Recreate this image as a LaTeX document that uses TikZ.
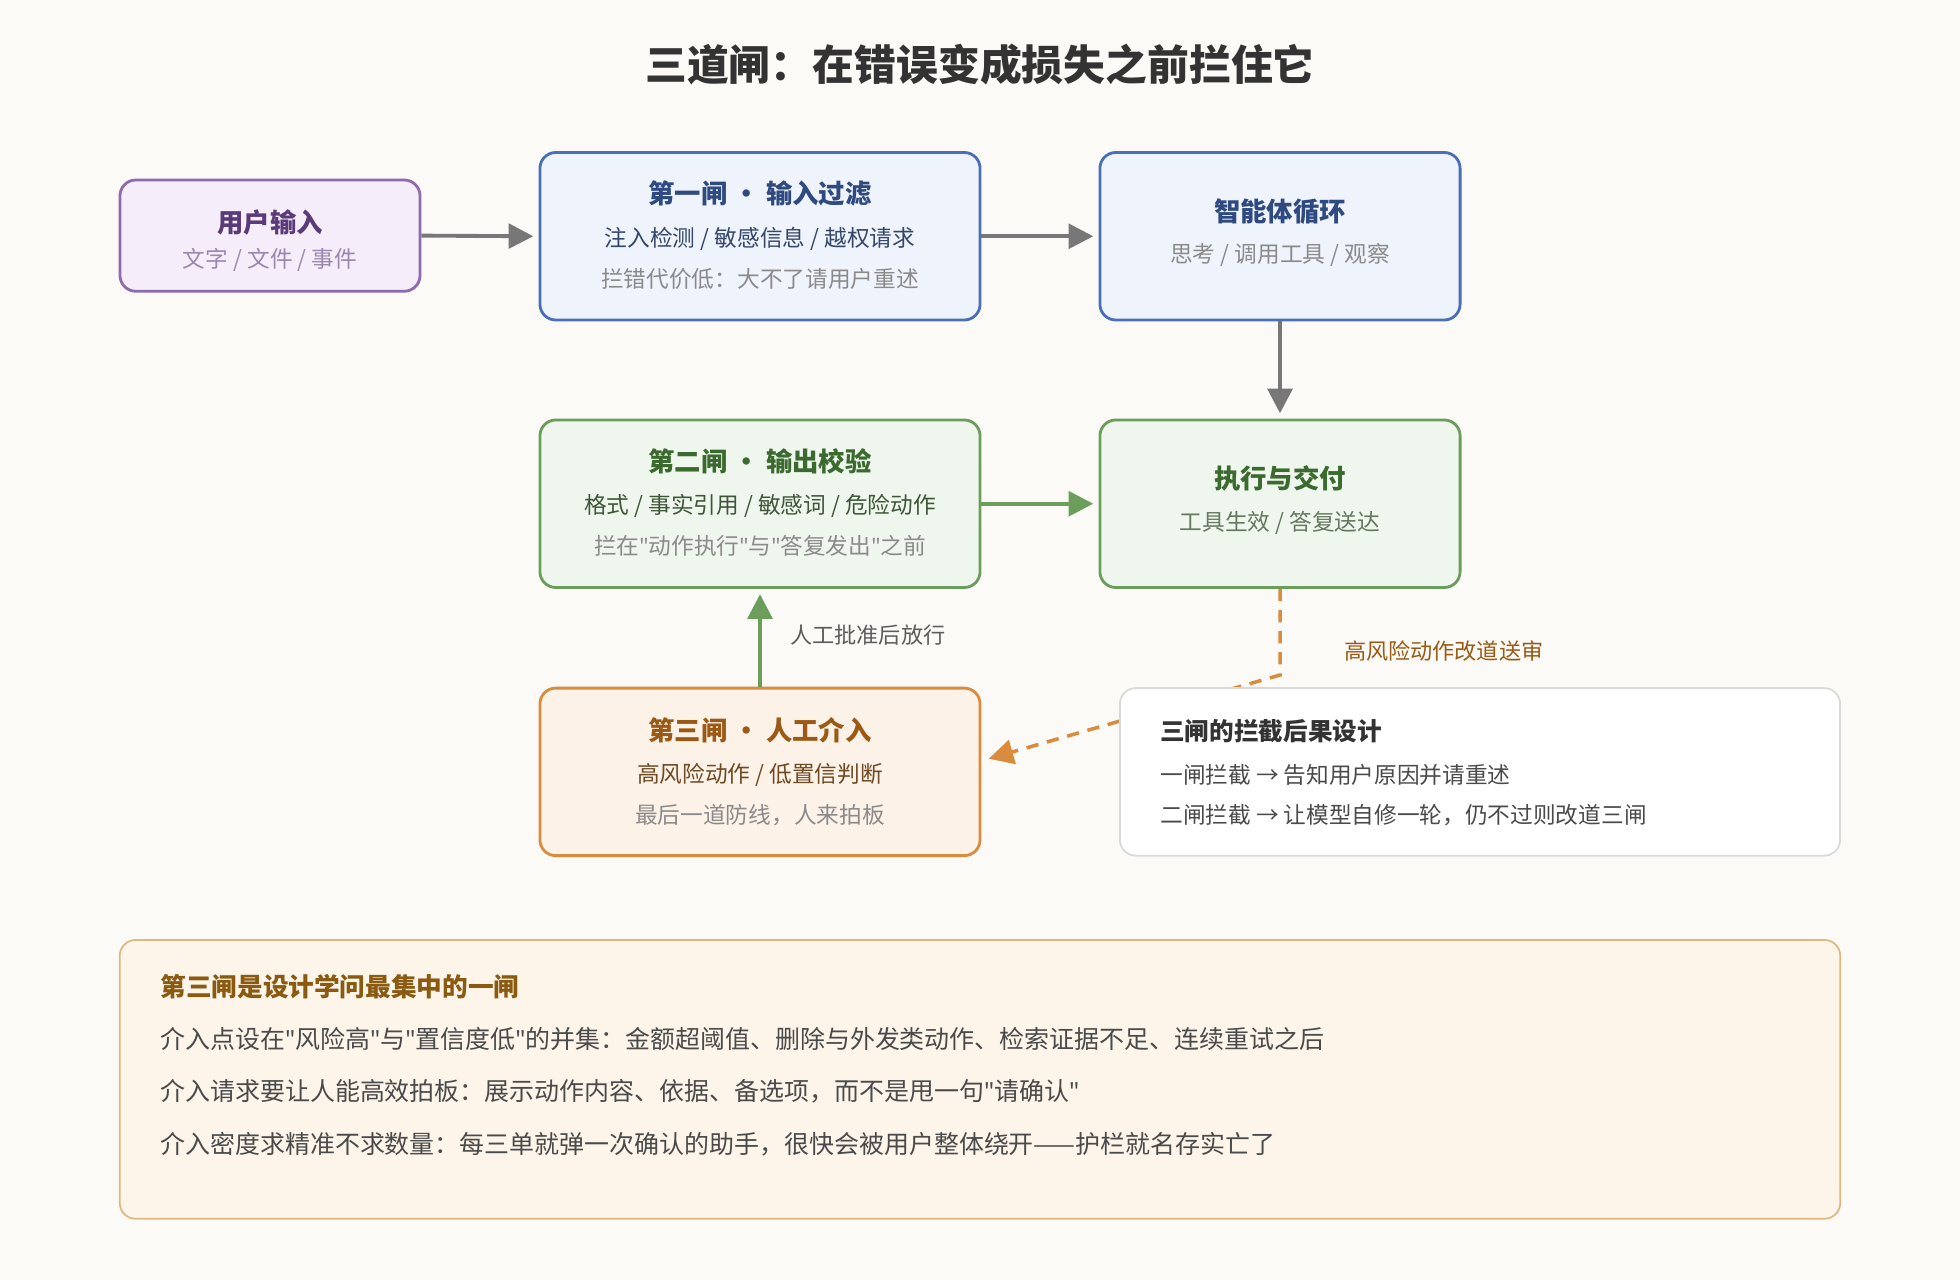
\documentclass[tikz,border=0pt]{standalone}
\usepackage{fontspec}
\setmainfont{Noto Sans CJK SC}
\newfontfamily\latf{Noto Sans}[Mapping=]
\usetikzlibrary{arrows.meta}
\definecolor{bg}{HTML}{FBFAF6}
\definecolor{pF}{HTML}{F5EEFA}\definecolor{pB}{HTML}{8E6BB0}\definecolor{pT}{HTML}{5B3A7A}\definecolor{pS}{HTML}{9A86AE}
\definecolor{bF}{HTML}{EEF3FC}\definecolor{bB}{HTML}{4A6FB5}\definecolor{bT}{HTML}{2F4A80}\definecolor{bM}{HTML}{34476A}
\definecolor{gF}{HTML}{EFF6EE}\definecolor{gB}{HTML}{6A9E5A}\definecolor{gT}{HTML}{3A6A2E}\definecolor{gM}{HTML}{3F5538}
\definecolor{oF}{HTML}{FDF2E8}\definecolor{oB}{HTML}{D98B3E}\definecolor{oT}{HTML}{9A5A15}\definecolor{oM}{HTML}{6E4A22}
\definecolor{nB}{HTML}{D9D9D9}\definecolor{dk}{HTML}{333333}\definecolor{gr}{HTML}{8A8A8A}\definecolor{ar}{HTML}{777777}
\definecolor{yF}{HTML}{FDF5EA}\definecolor{yB}{HTML}{DDB880}\definecolor{yT}{HTML}{8A5A10}\definecolor{tx}{HTML}{4A4A4A}
\newcommand{\fs}[1]{\fontsize{#1}{#1}\selectfont}
\newcommand{\q}{{\latf\char"22}}
\tikzset{x=0.025cm,y=-0.025cm,
 box/.style={draw,line width=1.6pt,rounded corners=9pt,inner sep=0pt},
 ttl/.style={font=\fs{15}\bfseries},
 sub/.style={font=\fs{12.9}},
 arr/.style={draw=ar,line width=2.2pt,-{Triangle[length=14pt,width=14pt]}},
 garr/.style={draw=gB,line width=2.2pt,-{Triangle[length=14pt,width=14pt]}},
}
\begin{document}
\begin{tikzpicture}
\fill[bg] (0,0) rectangle (1568,1024);
\useasboundingbox (0,0) rectangle (1568,1024);
\node[font=\fs{23.8}\bfseries,text=dk] (title) at (784,52) {三道闸：在错误变成损失之前拦住它};
% boxes
\node[box,fill=pF,draw=pB,minimum width=170.7pt,minimum height=63.3pt] (user) at (216,188.5) {};
\node[box,fill=bF,draw=bB,minimum width=250.4pt,minimum height=95.3pt] (g1) at (608,189) {};
\node[box,fill=bF,draw=bB,minimum width=204.9pt,minimum height=95.3pt] (agent) at (1024,189) {};
\node[box,fill=gF,draw=gB,minimum width=250.4pt,minimum height=95.3pt] (g2) at (608,403) {};
\node[box,fill=gF,draw=gB,minimum width=204.9pt,minimum height=95.3pt] (exec) at (1024,403) {};
% dashed route (under note)
\coordinate (bend) at (1024,540);
\draw[oB,line width=2pt,dash pattern=on 7pt off 5pt,-{Triangle[length=14pt,width=14pt]}] (exec.south) -- (bend) -- (791,607);
\node[box,fill=oF,draw=oB,minimum width=250.4pt,minimum height=95.3pt] (g3) at (608,617.5) {};
\node[draw=nB,fill=white,line width=1pt,rounded corners=9pt,minimum width=409.7pt,minimum height=95.3pt] (note) at (1184,617.5) {};
\node[draw=yB,fill=yF,line width=1pt,rounded corners=9pt,minimum width=978.8pt,minimum height=158.6pt] (bottom) at (784,863.5) {};
% texts
\node[ttl,text=pT] (t1) at (216,178) {用户输入};
\node[sub,text=pS] (t1s) at (216,208) {文字 / 文件 / 事件};
\node[ttl,text=bT] (t2) at (608,155) {第一闸 · 输入过滤};
\node[sub,text=bM] (t2a) at (608,191) {注入检测 / 敏感信息 / 越权请求};
\node[sub,text=gr] (t2b) at (608,223) {拦错代价低：大不了请用户重述};
\node[ttl,text=bT] (t3) at (1024,169) {智能体循环};
\node[sub,text=gr] (t3s) at (1024,204) {思考 / 调用工具 / 观察};
\node[ttl,text=gT] (t4) at (608,369) {第二闸 · 输出校验};
\node[sub,text=gM] (t4a) at (608,405) {格式 / 事实引用 / 敏感词 / 危险动作};
\node[sub,text=gr] (t4b) at (608,437) {拦在\q 动作执行\q 与\q 答复发出\q 之前};
\node[ttl,text=gT] (t5) at (1024,383) {执行与交付};
\node[sub,text=gM!80] (t5s) at (1024,418) {工具生效 / 答复送达};
\node[ttl,text=oT] (t6) at (608,584) {第三闸 · 人工介入};
\node[sub,text=oM] (t6a) at (608,620) {高风险动作 / 低置信判断};
\node[sub,text=gr] (t6b) at (608,652) {最后一道防线，人来拍板};
\node[font=\fs{14}\bfseries,text=dk,anchor=west,inner sep=0pt] (n1) at (928,585) {三闸的拦截后果设计};
\node[sub,text=tx,anchor=west,inner sep=0pt] (n2) at (928,620) {一闸拦截 → 告知用户原因并请重述};
\node[sub,text=tx,anchor=west,inner sep=0pt] (n3) at (928,652) {二闸拦截 → 让模型自修一轮，仍不过则改道三闸};
\node[font=\fs{12.6},text=oT,anchor=west,inner sep=0pt] (l1) at (1075,521) {高风险动作改道送审};
\node[font=\fs{12.6},text=dk!80,anchor=west,inner sep=0pt] (l2) at (632,508) {人工批准后放行};
\node[font=\fs{14.6}\bfseries,text=yT,anchor=west,inner sep=0pt] (b0) at (128,789) {第三闸是设计学问最集中的一闸};
\node[font=\fs{14.2},text=tx,anchor=west,inner sep=0pt] (b1) at (128,831) {介入点设在\q 风险高\q 与\q 置信度低\q 的并集：金额超阈值、删除与外发类动作、检索证据不足、连续重试之后};
\node[font=\fs{14.2},text=tx,anchor=west,inner sep=0pt] (b2) at (128,873) {介入请求要让人能高效拍板：展示动作内容、依据、备选项，而不是甩一句\q 请确认\q};
\node[font=\fs{14.2},text=tx,anchor=west,inner sep=0pt] (b3) at (128,915) {介入密度求精准不求数量：每三单就弹一次确认的助手，很快会被用户整体绕开——护栏就名存实亡了};
% arrows
\draw[arr] (user.east) -- ([xshift=-3pt]g1.west);
\draw[arr] (g1.east) -- ([xshift=-3pt]agent.west);
\draw[arr] (agent.south) -- ([yshift=3pt]exec.north);
\draw[garr] (g2.east) -- ([xshift=-3pt]exec.west);
\draw[garr] (g3.north) -- ([yshift=-3pt]g2.south);
\end{tikzpicture}
\end{document}
